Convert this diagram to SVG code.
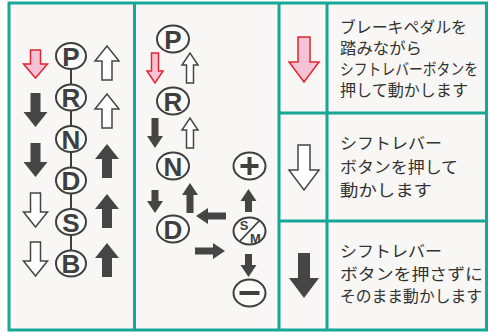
<svg xmlns="http://www.w3.org/2000/svg" xmlns:xlink="http://www.w3.org/1999/xlink" width="489" height="332" viewBox="0 0 489 332">
<style>
.frame{fill:none;stroke:#16a796;stroke-width:3}
.ring{fill:#fbfbfa;stroke:#3f3f3f;stroke-width:2}
.let{font-family:"Liberation Sans",Arial,sans-serif;font-weight:bold;font-size:26px;fill:#3f3f3f;text-anchor:middle}
.sm{font-family:"Liberation Sans",Arial,sans-serif;font-weight:bold;font-size:13px;fill:#3f3f3f;text-anchor:middle}
.dark{fill:#454545}
.out{fill:#ffffff;stroke:#454545;stroke-width:1.5;stroke-linejoin:miter}
.pink{fill:#f6c3d6;stroke:#e3252f;stroke-width:1.5}
.jp{font-family:"Noto Sans CJK JP","Noto Sans CJK SC",sans-serif;font-size:16px;fill:#333}
.bar{stroke:#3f3f3f;stroke-width:2}
</style>
<defs>
<path id="a1" d="M-5,0 H5 V19 H12 L0,34 L-12,19 H-5 Z"/>
<path id="a1p" d="M-5,0 H5 V14 H12 L0,28 L-12,14 H-5 Z"/>
<path id="a2" d="M-3.5,0 H3.5 V18 H8 L0,30 L-8,18 H-3.5 Z"/>
<path id="a2s" d="M-3.5,0 H3.5 V11 H8 L0,23 L-8,11 H-3.5 Z"/>
<path id="a3" d="M-6,0 H6 V25 H15 L0,45 L-15,25 H-6 Z"/>
</defs>
<rect x="0" y="0" width="489" height="332" fill="#ffffff"/>
<rect x="9" y="3" width="477.5" height="327" fill="#f8f7f5"/>

<g id="connectors">
<line class="bar" x1="71" y1="70" x2="71" y2="250"/>
<!-- left column arrows -->
<use xlink:href="#a1p" class="pink" transform="translate(35.5,50)"/>
<use xlink:href="#a1" class="dark" transform="translate(35.5,93)"/>
<use xlink:href="#a1" class="dark" transform="translate(35.5,143)"/>
<use xlink:href="#a1" class="out" transform="translate(35.5,193)"/>
<use xlink:href="#a1" class="out" transform="translate(35.5,242)"/>
<use xlink:href="#a1" class="out" transform="translate(107,80) rotate(180)"/>
<use xlink:href="#a1" class="out" transform="translate(107,128) rotate(180)"/>
<use xlink:href="#a1" class="dark" transform="translate(107,178) rotate(180)"/>
<use xlink:href="#a1" class="dark" transform="translate(107,228) rotate(180)"/>
<use xlink:href="#a1" class="dark" transform="translate(107,277) rotate(180)"/>
<!-- middle column arrows -->
<use xlink:href="#a2" class="pink" transform="translate(155,53)"/>
<use xlink:href="#a2" class="out" transform="translate(190,83) rotate(180)"/>
<use xlink:href="#a2" class="dark" transform="translate(155,118)"/>
<use xlink:href="#a2" class="out" transform="translate(190,148) rotate(180)"/>
<use xlink:href="#a2s" class="dark" transform="translate(155,190)"/>
<use xlink:href="#a2" class="dark" transform="translate(190,213) rotate(180)"/>
<use xlink:href="#a2" class="dark" transform="translate(226,216) rotate(90)"/>
<use xlink:href="#a2" class="dark" transform="translate(195,251) rotate(-90)"/>
<use xlink:href="#a2s" class="dark" transform="translate(248.5,212) rotate(180)"/>
<use xlink:href="#a2s" class="dark" transform="translate(248.5,254)"/>
<!-- right column arrows -->
<use xlink:href="#a3" class="pink" transform="translate(304,37)"/>
<use xlink:href="#a3" class="out" transform="translate(304,145)"/>
<use xlink:href="#a3" class="dark" transform="translate(304,253)"/>
</g>

<g id="node-P1"><ellipse class="ring" cx="71" cy="56" rx="15" ry="13"/><text class="let" x="71" y="65.5">P</text></g>
<g id="node-R1"><ellipse class="ring" cx="71" cy="97.5" rx="15" ry="13"/><text class="let" x="71" y="107">R</text></g>
<g id="node-N1"><ellipse class="ring" cx="71" cy="139" rx="15" ry="13"/><text class="let" x="71" y="148.5">N</text></g>
<g id="node-D1"><ellipse class="ring" cx="71" cy="180.5" rx="15" ry="13"/><text class="let" x="71" y="190">D</text></g>
<g id="node-S1"><ellipse class="ring" cx="71" cy="222" rx="15" ry="13"/><text class="let" x="71" y="231.5">S</text></g>
<g id="node-B1"><ellipse class="ring" cx="71" cy="263.5" rx="15" ry="13"/><text class="let" x="71" y="273">B</text></g>

<g id="node-P2"><ellipse class="ring" cx="173" cy="39" rx="16" ry="13.5"/><text class="let" x="173" y="48.5">P</text></g>
<g id="node-R2"><ellipse class="ring" cx="173" cy="101" rx="16" ry="13.5"/><text class="let" x="173" y="110.5">R</text></g>
<g id="node-N2"><ellipse class="ring" cx="173" cy="166" rx="16" ry="13.5"/><text class="let" x="173" y="175.5">N</text></g>
<g id="node-D2"><ellipse class="ring" cx="173" cy="229" rx="16" ry="13.5"/><text class="let" x="173" y="238.5">D</text></g>
<g id="node-plus"><ellipse class="ring" cx="249.5" cy="166" rx="16" ry="13.5"/><path d="M249.5,157 V175 M240.5,166 H258.5" stroke="#3f3f3f" stroke-width="4"/></g>
<g id="node-SM"><ellipse class="ring" cx="249.5" cy="231" rx="16" ry="13.5"/><line x1="240" y1="241" x2="259" y2="221" stroke="#3f3f3f" stroke-width="1.8"/><text class="sm" x="244" y="230">S</text><text class="sm" x="255.5" y="242.5">M</text></g>
<g id="node-minus"><ellipse class="ring" cx="249.5" cy="293" rx="16" ry="13.5"/><path d="M239.5,293 H259.5" stroke="#3f3f3f" stroke-width="4"/></g>

<g id="legend-text">
<text class="jp" x="340" y="32.5" textLength="127" lengthAdjust="spacingAndGlyphs">ブレーキペダルを</text>
<text class="jp" x="340" y="53.5" textLength="82" lengthAdjust="spacingAndGlyphs">踏みながら</text>
<text class="jp" x="340" y="74.5" textLength="138" lengthAdjust="spacingAndGlyphs">シフトレバーボタンを</text>
<text class="jp" x="340" y="95.5" textLength="128" lengthAdjust="spacingAndGlyphs">押して動かします</text>
<text class="jp" x="340" y="149" textLength="102" lengthAdjust="spacingAndGlyphs">シフトレバー</text>
<text class="jp" x="340" y="172.5" textLength="118" lengthAdjust="spacingAndGlyphs">ボタンを押して</text>
<text class="jp" x="340" y="196" textLength="92" lengthAdjust="spacingAndGlyphs">動かします</text>
<text class="jp" x="340" y="257" textLength="102" lengthAdjust="spacingAndGlyphs">シフトレバー</text>
<text class="jp" x="340" y="279.5" textLength="143" lengthAdjust="spacingAndGlyphs">ボタンを押さずに</text>
<text class="jp" x="340" y="302" textLength="142" lengthAdjust="spacingAndGlyphs">そのまま動かします</text>
</g>

<g id="grid">
<rect class="frame" x="9" y="3" width="477.5" height="327"/>
<line class="frame" x1="134.5" y1="3" x2="134.5" y2="330"/>
<line class="frame" x1="279" y1="3" x2="279" y2="330"/>
<line class="frame" x1="327" y1="3" x2="327" y2="330"/>
<line class="frame" x1="279" y1="113" x2="486.5" y2="113"/>
<line class="frame" x1="279" y1="221" x2="486.5" y2="221"/>
</g>
</svg>
